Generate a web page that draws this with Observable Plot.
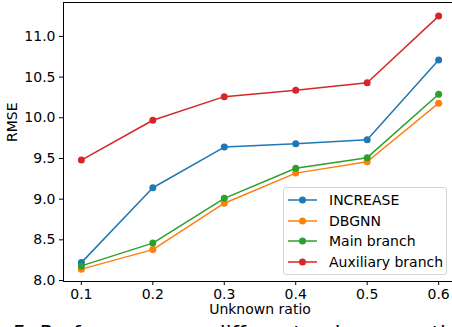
<!DOCTYPE html>
<html>
<head>
<meta charset="utf-8">
<script src="https://cdn.jsdelivr.net/npm/d3@7"></script>
<script src="https://cdn.jsdelivr.net/npm/@observablehq/plot@0.6"></script>
<style>
  html, body { margin: 0; padding: 0; background: white; width: 452px; height: 327px; overflow: hidden; }
  #wrap { position: relative; width: 452px; height: 327px; overflow: hidden; font-family: "DejaVu Sans", sans-serif; }
  #wrap > svg { max-width: none !important; width: 460px; height: 327px; }
  #legend { position: absolute; left: 283px; top: 187px; width: 164px; height: 88px; box-sizing: border-box;
            border: 1px solid #d4d4d4; border-radius: 3px; background: rgba(255,255,255,0.85); }
  .row { position: absolute; left: 0; height: 14px; display: flex; align-items: center; font-size: 14px; color: black; white-space: nowrap; }
  #caption { position: absolute; left: 13px; top: 324px; font-size: 21px; line-height: 1; white-space: nowrap; color: black; font-family: "DejaVu Sans", sans-serif; }
</style>
</head>
<body>
<div id="wrap"></div>
<script>
const ratios = [0.1, 0.2, 0.3, 0.4, 0.5, 0.6];
const seriesNames = ["INCREASE", "DBGNN", "Main branch", "Auxiliary branch"];
const increase   = [8.22, 9.14, 9.64, 9.68, 9.73, 10.71];
const dbgnn      = [8.14, 8.38, 8.95, 9.32, 9.46, 10.18];
const mainBranch = [8.18, 8.46, 9.01, 9.38, 9.51, 10.29];
const auxBranch  = [9.48, 9.97, 10.26, 10.34, 10.43, 11.25];
const yTicks = [8.0, 8.5, 9.0, 9.5, 10.0, 10.5, 11.0];
const colors = ["#1f77b4", "#ff7f0e", "#2ca02c", "#d62728"];

const seriesValues = [increase, dbgnn, mainBranch, auxBranch];
const tables = seriesValues.map((vals, i) => ratios.map((r, j) => ({ratio: r, rmse: vals[j], name: seriesNames[i]})));

const fmt = d3.format(".1f");
const marks = [
  Plot.axisX({ticks: ratios, tickFormat: fmt, tickSize: 4, tickPadding: 4, label: null, fontSize: 14}),
  Plot.axisY({ticks: yTicks, tickFormat: fmt, tickSize: 4, tickPadding: 4, label: null, fontSize: 14}),
];
tables.forEach((t, i) => {
  marks.push(Plot.line(t, {x: "ratio", y: "rmse", stroke: colors[i], strokeWidth: 1.5}));
  marks.push(Plot.dot(t, {x: "ratio", y: "rmse", fill: colors[i], r: 3.5}));
});
marks.push(Plot.frame({stroke: "black", strokeWidth: 1}));
marks.push(Plot.text(["Unknown ratio"], {frameAnchor: "bottom", dy: 32, text: d => d, fontSize: 14}));
marks.push(Plot.text(["RMSE"], {frameAnchor: "left", dx: -50.5, rotate: -90, text: d => d, fontSize: 14}));

const chart = Plot.plot({
  width: 460, height: 327,
  marginLeft: 63, marginRight: 4, marginTop: 2, marginBottom: 46,
  style: {fontFamily: "DejaVu Sans, sans-serif", fontSize: "14px", color: "black", background: "white", overflow: "visible", maxWidth: "none"},
  x: {domain: [0.075, 0.625]},
  y: {domain: [7.988, 11.417]},
  marks
});
const wrap = document.getElementById("wrap");
wrap.appendChild(chart);

const legend = d3.select(wrap).append("div").attr("id", "legend");
seriesNames.forEach((name, i) => {
  const row = legend.append("div").attr("class", "row").style("top", (5 + i * 20.7) + "px");
  const sw = row.append("svg").attr("width", 45).attr("height", 14).style("flex", "none");
  sw.append("line").attr("x1", 4).attr("x2", 33).attr("y1", 7).attr("y2", 7).attr("stroke", colors[i]).attr("stroke-width", 1.5);
  sw.append("circle").attr("cx", 18.5).attr("cy", 7).attr("r", 3.5).attr("fill", colors[i]);
  row.append("span").text(name);
});

d3.select(wrap).append("div").attr("id", "caption").text("5. Performance on different unknown ratios.");
</script>
</body>
</html>
